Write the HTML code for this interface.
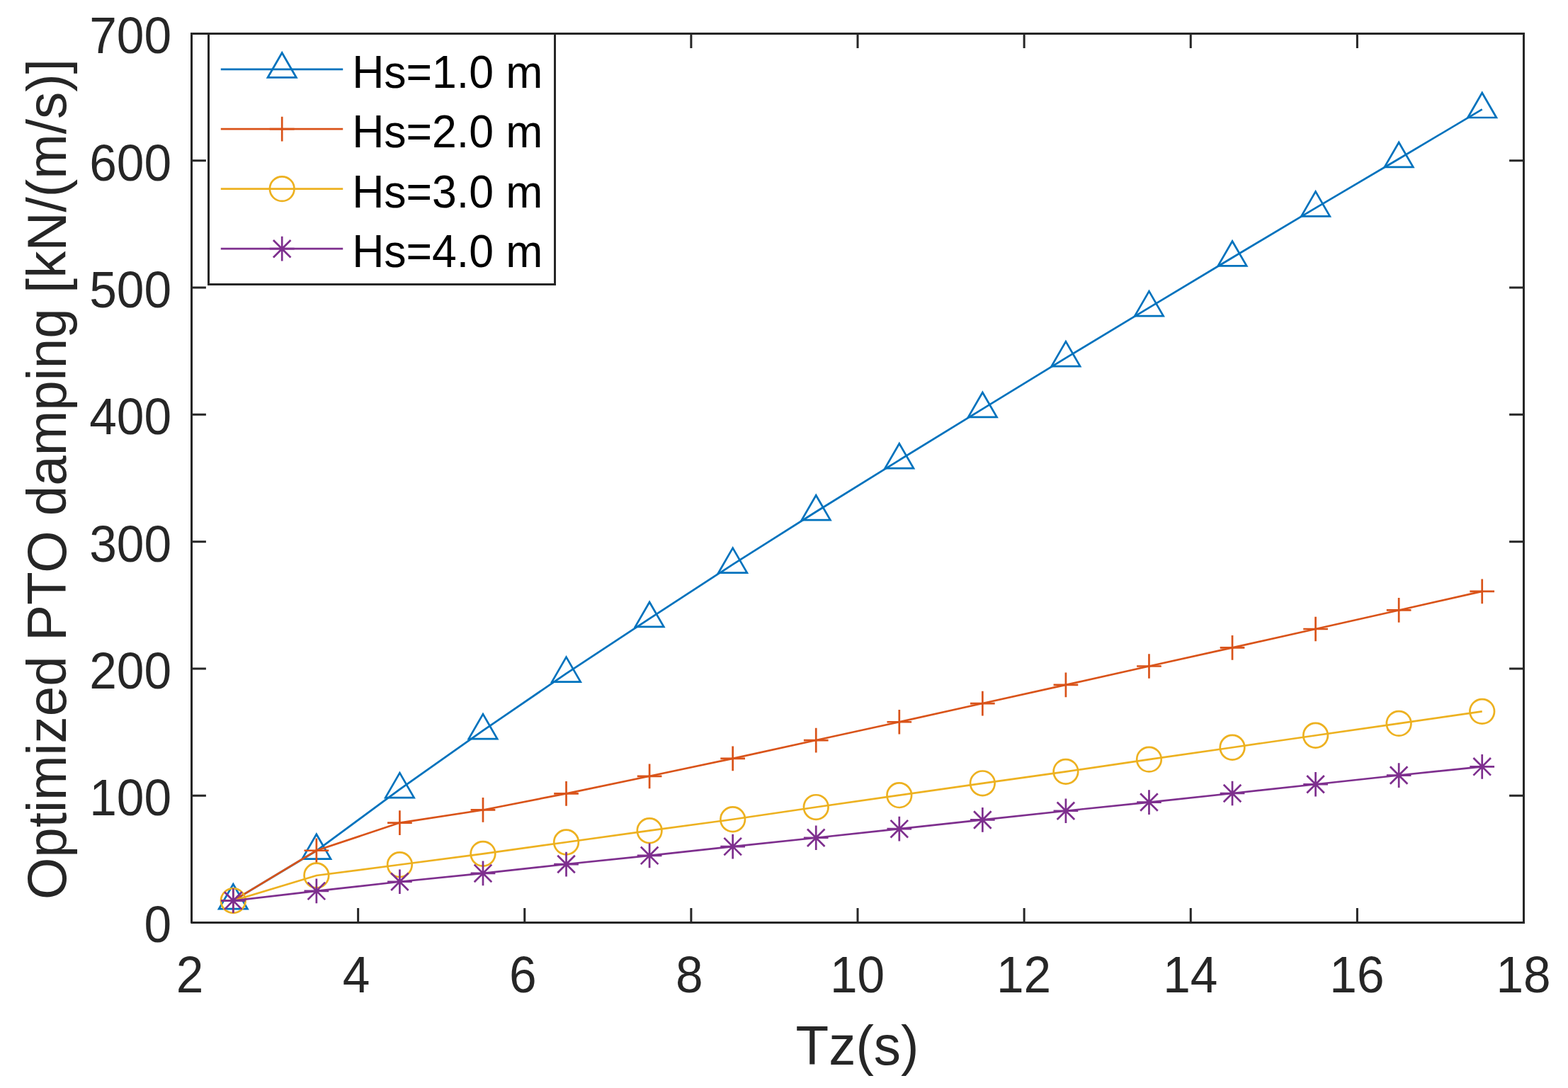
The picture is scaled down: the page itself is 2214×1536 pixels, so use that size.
<!DOCTYPE html>
<html lang="en"><head><meta charset="utf-8"><title>Optimized PTO damping vs Tz</title>
<style>html,body{margin:0;padding:0;background:#fff}body{width:2214px;height:1536px;overflow:hidden}svg{display:block}text{font-family:"Liberation Sans",Arial,Helvetica,sans-serif}.t{font-size:69.44px;fill:#262626}.l{font-size:76.39px;fill:#262626}.g{font-size:62.5px;fill:#000}.s{fill:none;stroke-width:2.7;stroke-linejoin:miter;stroke-miterlimit:10}</style></head><body>
<svg width="2214" height="1536" viewBox="0 0 2214 1536">
<rect width="2214" height="1536" fill="#fff"/>
<g fill="none" stroke="#262626" stroke-width="3">
<path d="M270.5 1302.5V1282.1M270.5 47.5V67.9M505.62 1302.5V1282.1M505.62 47.5V67.9M740.75 1302.5V1282.1M740.75 47.5V67.9M975.88 1302.5V1282.1M975.88 47.5V67.9M1211 1302.5V1282.1M1211 47.5V67.9M1446.12 1302.5V1282.1M1446.12 47.5V67.9M1681.25 1302.5V1282.1M1681.25 47.5V67.9M1916.38 1302.5V1282.1M1916.38 47.5V67.9M2151.5 1302.5V1282.1M2151.5 47.5V67.9M270.5 1302.5H290.9M2151.5 1302.5H2131.1M270.5 1123.21H290.9M2151.5 1123.21H2131.1M270.5 943.93H290.9M2151.5 943.93H2131.1M270.5 764.64H290.9M2151.5 764.64H2131.1M270.5 585.36H290.9M2151.5 585.36H2131.1M270.5 406.07H290.9M2151.5 406.07H2131.1M270.5 226.79H290.9M2151.5 226.79H2131.1M270.5 47.5H290.9M2151.5 47.5H2131.1"/>
<path stroke-linejoin="round" d="M270.5 47.5V1302.5H2151.5"/>
<path stroke-linecap="square" d="M270.5 47.5H2151.5V1302.5"/>
</g>
<g class="t" text-anchor="middle">
<text transform="translate(268 1401.3) scale(1 1.03)">2</text>
<text transform="translate(503.12 1401.3) scale(1 1.03)">4</text>
<text transform="translate(738.25 1401.3) scale(1 1.03)">6</text>
<text transform="translate(973.38 1401.3) scale(1 1.03)">8</text>
<text transform="translate(1210.5 1401.3) scale(1 1.03)">10</text>
<text transform="translate(1445.62 1401.3) scale(1 1.03)">12</text>
<text transform="translate(1680.75 1401.3) scale(1 1.03)">14</text>
<text transform="translate(1915.88 1401.3) scale(1 1.03)">16</text>
<text transform="translate(2151 1401.3) scale(1 1.03)">18</text>
</g>
<g class="t" text-anchor="end">
<text transform="translate(242 1330.4) scale(1 1.03)">0</text>
<text transform="translate(242 1151.11) scale(1 1.03)">100</text>
<text transform="translate(242 971.83) scale(1 1.03)">200</text>
<text transform="translate(242 792.54) scale(1 1.03)">300</text>
<text transform="translate(242 613.26) scale(1 1.03)">400</text>
<text transform="translate(242 433.97) scale(1 1.03)">500</text>
<text transform="translate(242 254.69) scale(1 1.03)">600</text>
<text transform="translate(242 75.4) scale(1 1.03)">700</text>
</g>
<text class="l" text-anchor="middle" transform="translate(1210.5 1503.3) scale(1 1.015)">Tz(s)</text>
<text class="l" text-anchor="middle" transform="translate(92.8 676.6) rotate(-90) scale(1 1.015)">Optimized PTO damping [kN/(m/s)]</text>
<g class="s" stroke="#0072BD">
<polyline points="329.28,1271.57 446.84,1201.02 564.41,1114.43 681.97,1031.42 799.53,950.92 917.09,873.29 1034.66,796.91 1152.22,722.51 1269.78,649.54 1387.34,577.29 1504.91,505.4 1622.47,434.4 1740.03,363.76 1857.59,293.66 1975.16,224.28 2092.72,154.35"/>
<path d="M329.28 1248.27L349.46 1283.22L309.1 1283.22Z"/>
<path d="M446.84 1177.72L467.02 1212.67L426.67 1212.67Z"/>
<path d="M564.41 1091.13L584.58 1126.08L544.23 1126.08Z"/>
<path d="M681.97 1008.12L702.15 1043.07L661.79 1043.07Z"/>
<path d="M799.53 927.62L819.71 962.57L779.35 962.57Z"/>
<path d="M917.09 849.99L937.27 884.94L896.92 884.94Z"/>
<path d="M1034.66 773.61L1054.83 808.56L1014.48 808.56Z"/>
<path d="M1152.22 699.21L1172.4 734.16L1132.04 734.16Z"/>
<path d="M1269.78 626.24L1289.96 661.19L1249.6 661.19Z"/>
<path d="M1387.34 553.99L1407.52 588.94L1367.17 588.94Z"/>
<path d="M1504.91 482.1L1525.08 517.05L1484.73 517.05Z"/>
<path d="M1622.47 411.1L1642.65 446.05L1602.29 446.05Z"/>
<path d="M1740.03 340.46L1760.21 375.41L1719.85 375.41Z"/>
<path d="M1857.59 270.36L1877.77 305.31L1837.42 305.31Z"/>
<path d="M1975.16 200.98L1995.33 235.93L1954.98 235.93Z"/>
<path d="M2092.72 131.05L2112.9 166L2072.54 166Z"/>
</g>
<g class="s" stroke="#D95319">
<polyline points="329.28,1271.57 446.84,1200.76 564.41,1161.58 681.97,1143.47 799.53,1120.35 917.09,1095.78 1034.66,1070.86 1152.22,1045.05 1269.78,1019.23 1387.34,993.05 1504.91,966.88 1622.47,940.52 1740.03,914.35 1857.59,887.99 1975.16,861.46 2092.72,834.92"/>
<path d="M311.93 1271.57H346.63M329.28 1254.22V1288.92"/>
<path d="M429.49 1200.76H464.19M446.84 1183.41V1218.11"/>
<path d="M547.06 1161.58H581.76M564.41 1144.23V1178.93"/>
<path d="M664.62 1143.47H699.32M681.97 1126.12V1160.82"/>
<path d="M782.18 1120.35H816.88M799.53 1103V1137.7"/>
<path d="M899.74 1095.78H934.44M917.09 1078.43V1113.13"/>
<path d="M1017.31 1070.86H1052.01M1034.66 1053.51V1088.21"/>
<path d="M1134.87 1045.05H1169.57M1152.22 1027.7V1062.4"/>
<path d="M1252.43 1019.23H1287.13M1269.78 1001.88V1036.58"/>
<path d="M1369.99 993.05H1404.69M1387.34 975.7V1010.4"/>
<path d="M1487.56 966.88H1522.26M1504.91 949.53V984.23"/>
<path d="M1605.12 940.52H1639.82M1622.47 923.17V957.87"/>
<path d="M1722.68 914.35H1757.38M1740.03 897V931.7"/>
<path d="M1840.24 887.99H1874.94M1857.59 870.64V905.34"/>
<path d="M1957.81 861.46H1992.51M1975.16 844.11V878.81"/>
<path d="M2075.37 834.92H2110.07M2092.72 817.57V852.27"/>
</g>
<g class="s" stroke="#EDB120">
<polyline points="329.28,1271.57 446.84,1235.98 564.41,1220.75 681.97,1205.33 799.53,1189.01 917.09,1172.7 1034.66,1156.74 1152.22,1139.53 1269.78,1122.68 1387.34,1105.82 1504.91,1089.33 1622.47,1072.12 1740.03,1055.26 1857.59,1038.23 1975.16,1021.38 2092.72,1004.35"/>
<circle cx="329.28" cy="1271.57" r="17.3"/>
<circle cx="446.84" cy="1235.98" r="17.3"/>
<circle cx="564.41" cy="1220.75" r="17.3"/>
<circle cx="681.97" cy="1205.33" r="17.3"/>
<circle cx="799.53" cy="1189.01" r="17.3"/>
<circle cx="917.09" cy="1172.7" r="17.3"/>
<circle cx="1034.66" cy="1156.74" r="17.3"/>
<circle cx="1152.22" cy="1139.53" r="17.3"/>
<circle cx="1269.78" cy="1122.68" r="17.3"/>
<circle cx="1387.34" cy="1105.82" r="17.3"/>
<circle cx="1504.91" cy="1089.33" r="17.3"/>
<circle cx="1622.47" cy="1072.12" r="17.3"/>
<circle cx="1740.03" cy="1055.26" r="17.3"/>
<circle cx="1857.59" cy="1038.23" r="17.3"/>
<circle cx="1975.16" cy="1021.38" r="17.3"/>
<circle cx="2092.72" cy="1004.35" r="17.3"/>
</g>
<g class="s" stroke="#7E2F8E">
<polyline points="329.28,1271.57 446.84,1257.86 564.41,1244.77 681.97,1232.94 799.53,1220.03 917.09,1207.84 1034.66,1195.11 1152.22,1182.74 1269.78,1170.19 1387.34,1157.46 1504.91,1144.73 1622.47,1132.54 1740.03,1119.99 1857.59,1107.26 1975.16,1094.53 2092.72,1082.34"/>
<path d="M311.93 1271.57H346.63M329.28 1254.22V1288.92M317.01 1259.3L341.55 1283.84M317.01 1283.84L341.55 1259.3"/>
<path d="M429.49 1257.86H464.19M446.84 1240.51V1275.21M434.58 1245.59L459.11 1270.13M434.58 1270.13L459.11 1245.59"/>
<path d="M547.06 1244.77H581.76M564.41 1227.42V1262.12M552.14 1232.5L576.67 1257.04M552.14 1257.04L576.67 1232.5"/>
<path d="M664.62 1232.94H699.32M681.97 1215.59V1250.29M669.7 1220.67L694.24 1245.21M669.7 1245.21L694.24 1220.67"/>
<path d="M782.18 1220.03H816.88M799.53 1202.68V1237.38M787.26 1207.76L811.8 1232.3M787.26 1232.3L811.8 1207.76"/>
<path d="M899.74 1207.84H934.44M917.09 1190.49V1225.19M904.83 1195.57L929.36 1220.11M904.83 1220.11L929.36 1195.57"/>
<path d="M1017.31 1195.11H1052.01M1034.66 1177.76V1212.46M1022.39 1182.84L1046.92 1207.38M1022.39 1207.38L1046.92 1182.84"/>
<path d="M1134.87 1182.74H1169.57M1152.22 1165.39V1200.09M1139.95 1170.47L1164.49 1195.01M1139.95 1195.01L1164.49 1170.47"/>
<path d="M1252.43 1170.19H1287.13M1269.78 1152.84V1187.54M1257.51 1157.92L1282.05 1182.46M1257.51 1182.46L1282.05 1157.92"/>
<path d="M1369.99 1157.46H1404.69M1387.34 1140.11V1174.81M1375.08 1145.19L1399.61 1169.73M1375.08 1169.73L1399.61 1145.19"/>
<path d="M1487.56 1144.73H1522.26M1504.91 1127.38V1162.08M1492.64 1132.46L1517.17 1157M1492.64 1157L1517.17 1132.46"/>
<path d="M1605.12 1132.54H1639.82M1622.47 1115.19V1149.89M1610.2 1120.27L1634.74 1144.81M1610.2 1144.81L1634.74 1120.27"/>
<path d="M1722.68 1119.99H1757.38M1740.03 1102.64V1137.34M1727.76 1107.72L1752.3 1132.26M1727.76 1132.26L1752.3 1107.72"/>
<path d="M1840.24 1107.26H1874.94M1857.59 1089.91V1124.61M1845.33 1094.99L1869.86 1119.53M1845.33 1119.53L1869.86 1094.99"/>
<path d="M1957.81 1094.53H1992.51M1975.16 1077.18V1111.88M1962.89 1082.26L1987.42 1106.8M1962.89 1106.8L1987.42 1082.26"/>
<path d="M2075.37 1082.34H2110.07M2092.72 1064.99V1099.69M2080.45 1070.07L2104.99 1094.61M2080.45 1094.61L2104.99 1070.07"/>
</g>
<rect x="294.5" y="47.5" width="489" height="354" fill="#fff" stroke="#262626" stroke-width="3"/>
<g class="s" stroke="#0072BD">
<path d="M311.8 97.8H484.2"/>
<path d="M398.2 74.5L418.38 109.45L378.02 109.45Z"/>
</g>
<text class="g" transform="translate(497.2 123.8) scale(1 1.03)">Hs=1.0 m</text>
<g class="s" stroke="#D95319">
<path d="M311.8 182.1H484.2"/>
<path d="M380.85 182.1H415.55M398.2 164.75V199.45"/>
</g>
<text class="g" transform="translate(497.2 208.1) scale(1 1.03)">Hs=2.0 m</text>
<g class="s" stroke="#EDB120">
<path d="M311.8 266.6H484.2"/>
<circle cx="398.2" cy="266.6" r="17.3"/>
</g>
<text class="g" transform="translate(497.2 292.6) scale(1 1.03)">Hs=3.0 m</text>
<g class="s" stroke="#7E2F8E">
<path d="M311.8 351.2H484.2"/>
<path d="M380.85 351.2H415.55M398.2 333.85V368.55M385.93 338.93L410.47 363.47M385.93 363.47L410.47 338.93"/>
</g>
<text class="g" transform="translate(497.2 377.2) scale(1 1.03)">Hs=4.0 m</text>
</svg></body></html>
